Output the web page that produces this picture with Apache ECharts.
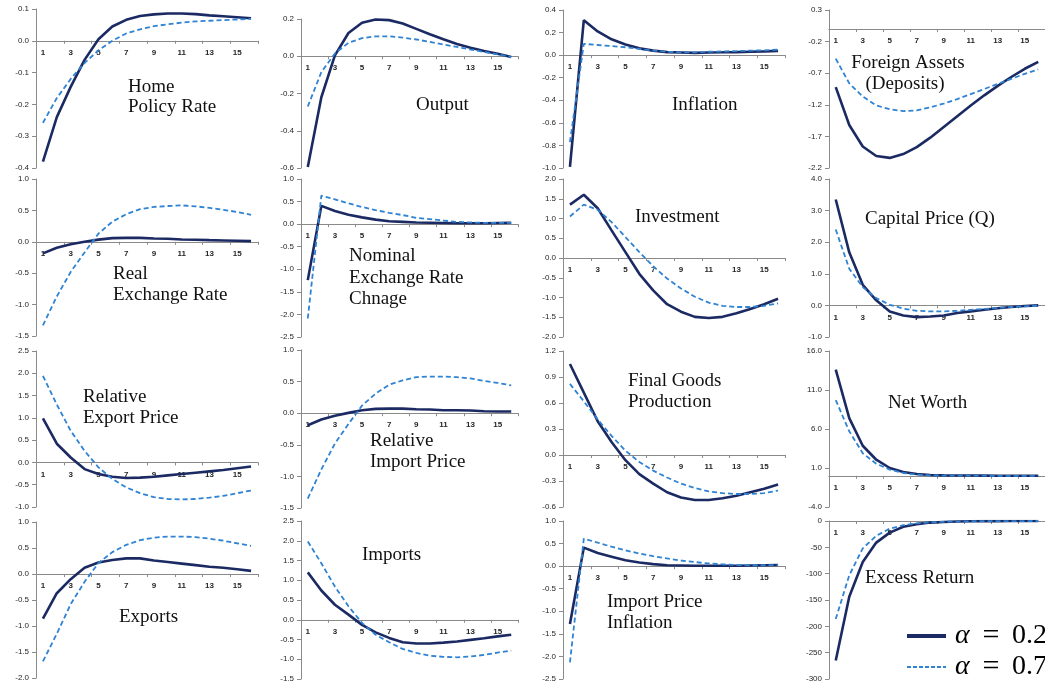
<!DOCTYPE html>
<html>
<head>
<meta charset="utf-8">
<title>Impulse responses</title>
<script src="https://cdn.jsdelivr.net/npm/echarts@6.0.0/dist/echarts.min.js"></script>
<style>
  html, body { margin: 0; padding: 0; background: #ffffff; }
  #chart { width: 1045px; height: 688px; }
</style>
</head>
<body>
<div id="chart"></div>
<script>
// Quarters after the shock
const periods = ['1','2','3','4','5','6','7','8','9','10','11','12','13','14','15','16'];

// Responses: "A2" = alpha 0.2 (solid), "A7" = alpha 0.7 (dashed)
const policyRateA2 = [-0.38, -0.24, -0.145, -0.06, 0.005, 0.045, 0.066, 0.078, 0.083, 0.086, 0.086, 0.084, 0.080, 0.077, 0.074, 0.071];
const policyRateA7 = [-0.258, -0.18, -0.12, -0.07, -0.03, 0.0, 0.023, 0.036, 0.046, 0.052, 0.057, 0.061, 0.063, 0.065, 0.067, 0.069];

const outputA2 = [-0.595, -0.22, 0.005, 0.125, 0.18, 0.197, 0.194, 0.176, 0.147, 0.118, 0.091, 0.066, 0.046, 0.028, 0.013, -0.004];
const outputA7 = [-0.27, -0.085, 0.015, 0.072, 0.097, 0.107, 0.107, 0.100, 0.090, 0.077, 0.063, 0.050, 0.036, 0.023, 0.010, -0.004];

const inflationA2 = [-0.99, 0.31, 0.21, 0.14, 0.095, 0.06, 0.04, 0.027, 0.024, 0.02, 0.024, 0.025, 0.027, 0.03, 0.033, 0.038];
const inflationA7 = [-0.77, 0.10, 0.09, 0.08, 0.07, 0.055, 0.04, 0.03, 0.025, 0.025, 0.03, 0.033, 0.036, 0.04, 0.043, 0.048];

const foreignAssetsA2 = [-0.92, -1.52, -1.86, -2.01, -2.04, -1.98, -1.87, -1.72, -1.55, -1.38, -1.21, -1.05, -0.90, -0.76, -0.63, -0.52];
const foreignAssetsA7 = [-0.47, -0.86, -1.07, -1.21, -1.27, -1.30, -1.29, -1.24, -1.18, -1.11, -1.03, -0.95, -0.87, -0.79, -0.71, -0.64];

const realRateA2 = [-0.185, -0.095, -0.04, 0.0, 0.035, 0.058, 0.063, 0.063, 0.053, 0.048, 0.037, 0.032, 0.026, 0.021, 0.016, 0.011];
const realRateA7 = [-1.33, -0.87, -0.48, -0.17, 0.13, 0.32, 0.44, 0.52, 0.555, 0.57, 0.58, 0.565, 0.54, 0.51, 0.475, 0.43];

const nominalRateA2 = [-1.24, 0.405, 0.29, 0.21, 0.15, 0.10, 0.065, 0.05, 0.035, 0.03, 0.025, 0.02, 0.02, 0.02, 0.025, 0.03];
const nominalRateA7 = [-2.09, 0.63, 0.55, 0.46, 0.38, 0.31, 0.25, 0.20, 0.14, 0.11, 0.08, 0.05, 0.037, 0.03, 0.03, 0.03];

const investmentA2 = [1.35, 1.60, 1.26, 0.70, 0.15, -0.40, -0.82, -1.17, -1.36, -1.49, -1.52, -1.49, -1.40, -1.29, -1.17, -1.03];
const investmentA7 = [1.05, 1.35, 1.22, 0.91, 0.53, 0.15, -0.21, -0.52, -0.77, -0.98, -1.13, -1.21, -1.24, -1.24, -1.21, -1.15];

const capitalPriceA2 = [3.35, 1.68, 0.65, 0.16, -0.19, -0.32, -0.37, -0.35, -0.32, -0.24, -0.19, -0.14, -0.09, -0.05, -0.02, 0.0];
const capitalPriceA7 = [2.4, 1.16, 0.58, 0.23, 0.02, -0.10, -0.17, -0.19, -0.19, -0.17, -0.14, -0.11, -0.08, -0.05, -0.03, -0.01];

const exportPriceA2 = [0.99, 0.42, 0.11, -0.15, -0.26, -0.32, -0.35, -0.34, -0.32, -0.29, -0.26, -0.23, -0.20, -0.17, -0.13, -0.09];
const exportPriceA7 = [1.94, 1.30, 0.71, 0.26, -0.11, -0.37, -0.56, -0.69, -0.78, -0.82, -0.83, -0.82, -0.79, -0.75, -0.69, -0.63];

const importPriceA2 = [-0.19, -0.10, -0.04, 0.005, 0.047, 0.068, 0.073, 0.073, 0.063, 0.058, 0.047, 0.047, 0.042, 0.031, 0.026, 0.026];
const importPriceA7 = [-1.35, -0.89, -0.48, -0.17, 0.12, 0.31, 0.45, 0.52, 0.57, 0.58, 0.58, 0.57, 0.55, 0.51, 0.48, 0.44];

const finalGoodsA2 = [1.05, 0.72, 0.39, 0.15, -0.06, -0.22, -0.33, -0.43, -0.49, -0.52, -0.52, -0.50, -0.47, -0.43, -0.39, -0.34];
const finalGoodsA7 = [0.82, 0.62, 0.41, 0.22, 0.05, -0.08, -0.18, -0.26, -0.33, -0.38, -0.42, -0.44, -0.45, -0.45, -0.44, -0.41];

const netWorthA2 = [13.6, 7.4, 3.85, 2.06, 1.0, 0.49, 0.23, 0.1, 0.06, 0.04, 0.03, 0.02, 0.01, 0.01, 0.0, 0.0];
const netWorthA7 = [9.7, 5.7, 2.9, 1.55, 0.79, 0.36, 0.15, 0.06, 0.03, 0.02, 0.01, 0.01, 0.0, 0.0, 0.0, 0.0];

const exportsA2 = [-0.86, -0.37, -0.10, 0.12, 0.22, 0.27, 0.30, 0.30, 0.26, 0.23, 0.20, 0.17, 0.14, 0.12, 0.09, 0.06];
const exportsA7 = [-1.68, -1.15, -0.58, -0.15, 0.21, 0.42, 0.56, 0.65, 0.70, 0.72, 0.72, 0.71, 0.68, 0.64, 0.59, 0.54];

const importsA2 = [1.20, 0.74, 0.38, 0.13, -0.13, -0.32, -0.46, -0.57, -0.60, -0.60, -0.58, -0.55, -0.51, -0.47, -0.42, -0.38];
const importsA7 = [1.98, 1.43, 0.84, 0.34, -0.08, -0.38, -0.57, -0.74, -0.84, -0.91, -0.94, -0.95, -0.93, -0.89, -0.83, -0.78];

const importInflA2 = [-1.28, 0.41, 0.29, 0.21, 0.13, 0.08, 0.045, 0.02, 0.015, 0.01, 0.01, 0.01, 0.01, 0.015, 0.02, 0.025];
const importInflA7 = [-2.13, 0.61, 0.52, 0.43, 0.35, 0.28, 0.22, 0.17, 0.125, 0.09, 0.06, 0.04, 0.025, 0.02, 0.02, 0.025];

const excessReturnA2 = [-265, -144, -78, -41, -22, -11, -6, -3, -2, -1, -0.5, -0.3, -0.2, -0.1, -0.1, 0];
const excessReturnA7 = [-186, -103, -52, -28, -14.5, -8, -4.5, -2.5, -1.5, -1, -0.5, -0.3, -0.2, -0.1, -0.1, 0];

// Value-axis tick labels for each panel
const policyRateTicks = [-0.4, -0.3, -0.2, -0.1, 0.0, 0.1];
const outputTicks = [-0.6, -0.4, -0.2, 0.0, 0.2];
const inflationTicks = [-1.0, -0.8, -0.6, -0.4, -0.2, 0.0, 0.2, 0.4];
const foreignAssetsTicks = [-2.2, -1.7, -1.2, -0.7, -0.2, 0.3];
const realRateTicks = [-1.5, -1.0, -0.5, 0.0, 0.5, 1.0];
const nominalRateTicks = [-2.5, -2.0, -1.5, -1.0, -0.5, 0.0, 0.5, 1.0];
const investmentTicks = [-2.0, -1.5, -1.0, -0.5, 0.0, 0.5, 1.0, 1.5, 2.0];
const capitalPriceTicks = [-1.0, 0.0, 1.0, 2.0, 3.0, 4.0];
const exportPriceTicks = [-1.0, -0.5, 0.0, 0.5, 1.0, 1.5, 2.0, 2.5];
const importPriceTicks = [-1.5, -1.0, -0.5, 0.0, 0.5, 1.0];
const finalGoodsTicks = [-0.6, -0.3, 0.0, 0.3, 0.6, 0.9, 1.2];
const netWorthTicks = [-4.0, 1.0, 6.0, 11.0, 16.0];
const exportsTicks = [-2.0, -1.5, -1.0, -0.5, 0.0, 0.5, 1.0];
const importsTicks = [-1.5, -1.0, -0.5, 0.0, 0.5, 1.0, 1.5, 2.0, 2.5];
const importInflTicks = [-2.5, -2.0, -1.5, -1.0, -0.5, 0.0, 0.5, 1.0];
const excessReturnTicks = [-300, -250, -200, -150, -100, -50, 0];

const panels = [
  { a2: policyRateA2, a7: policyRateA7, ticks: policyRateTicks, digits: 1 },
  { a2: outputA2, a7: outputA7, ticks: outputTicks, digits: 1 },
  { a2: inflationA2, a7: inflationA7, ticks: inflationTicks, digits: 1 },
  { a2: foreignAssetsA2, a7: foreignAssetsA7, ticks: foreignAssetsTicks, digits: 1 },
  { a2: realRateA2, a7: realRateA7, ticks: realRateTicks, digits: 1 },
  { a2: nominalRateA2, a7: nominalRateA7, ticks: nominalRateTicks, digits: 1 },
  { a2: investmentA2, a7: investmentA7, ticks: investmentTicks, digits: 1 },
  { a2: capitalPriceA2, a7: capitalPriceA7, ticks: capitalPriceTicks, digits: 1 },
  { a2: exportPriceA2, a7: exportPriceA7, ticks: exportPriceTicks, digits: 1 },
  { a2: importPriceA2, a7: importPriceA7, ticks: importPriceTicks, digits: 1 },
  { a2: finalGoodsA2, a7: finalGoodsA7, ticks: finalGoodsTicks, digits: 1 },
  { a2: netWorthA2, a7: netWorthA7, ticks: netWorthTicks, digits: 1 },
  { a2: exportsA2, a7: exportsA7, ticks: exportsTicks, digits: 1 },
  { a2: importsA2, a7: importsA7, ticks: importsTicks, digits: 1 },
  { a2: importInflA2, a7: importInflA7, ticks: importInflTicks, digits: 1 },
  { a2: excessReturnA2, a7: excessReturnA7, ticks: excessReturnTicks, digits: 0 }
];

// Panel layout (4 x 4 grid of small charts)
const colLeft = [36, 301, 563, 829];
const colWidth = [222, 217, 222, 218];
const panelTop = [9, 19, 10, 10, 179, 179, 179, 179, 351, 350, 351, 351, 522, 521, 521, 521];
const panelBottom = [168, 168, 168, 168, 336, 337, 337, 337, 507, 508, 507, 507, 678, 679, 679, 679];

const SOLID = '#1b2a62';
const DASHED = '#2f83d2';
const AXIS = '#8a8a8a';
const LABEL_FONT = '"Liberation Sans", Arial, sans-serif';
const TITLE_FONT = '19px "Liberation Serif", "Times New Roman", serif';

const grids = [], xAxes = [], yAxes = [], series = [];
panels.forEach((p, i) => {
  const col = i % 4;
  const height = panelBottom[i] - panelTop[i];
  const yMin = p.ticks[0];
  const yMax = p.ticks[p.ticks.length - 1];
  // the category axis (line, ticks and labels) sits on the zero level of the value axis
  const zeroLift = height * (0 - yMin) / (yMax - yMin);
  grids.push({
    left: colLeft[col], width: colWidth[col],
    top: panelTop[i], height: height,
    containLabel: false
  });
  xAxes.push({
    type: 'category', gridIndex: i, data: periods, boundaryGap: true,
    position: 'bottom', offset: -zeroLift,
    axisLine: { show: true, onZero: false, lineStyle: { color: AXIS, width: 1 } },
    axisTick: { show: true, interval: 1, length: 3, lineStyle: { color: AXIS } },
    axisLabel: { interval: 1, margin: 8, fontSize: 8, fontFamily: LABEL_FONT, color: '#262626', fontWeight: 'bold' },
    splitLine: { show: false }
  });
  yAxes.push({
    type: 'value', gridIndex: i, min: yMin, max: yMax,
    axisLine: { show: true, onZero: false, lineStyle: { color: AXIS, width: 1 } },
    axisTick: { show: true, length: 4, customValues: p.ticks, lineStyle: { color: AXIS } },
    axisLabel: {
      customValues: p.ticks, margin: 7, fontSize: 8, fontFamily: LABEL_FONT, color: '#262626',
      formatter: v => Number(v).toFixed(p.digits)
    },
    splitLine: { show: false }
  });
  series.push({
    type: 'line', name: 'α = 0.2', xAxisIndex: i, yAxisIndex: i, data: p.a2,
    showSymbol: false, smooth: false, clip: true,
    lineStyle: { color: SOLID, width: 2.6 }
  });
  series.push({
    type: 'line', name: 'α = 0.7', xAxisIndex: i, yAxisIndex: i, data: p.a7,
    showSymbol: false, smooth: false, clip: true,
    lineStyle: { color: DASHED, width: 1.8, type: [5, 3] }
  });
});

// Panel captions, one element per line
function caption(text, x, y, align) {
  return {
    type: 'text', x: x, y: y, z: 10,
    style: { text: text, font: TITLE_FONT, fill: '#111', align: align || 'left', verticalAlign: 'middle' }
  };
}
const captions = [
  caption('Home', 128, 87), caption('Policy Rate', 128, 107),
  caption('Output', 416, 105),
  caption('Inflation', 672, 105),
  caption('Foreign Assets', 908, 63, 'center'), caption('(Deposits)', 905, 84, 'center'),
  caption('Real', 113, 274), caption('Exchange Rate', 113, 295),
  caption('Nominal', 349, 256), caption('Exchange Rate', 349, 278), caption('Chnage', 349, 299),
  caption('Investment', 635, 217),
  caption('Capital Price (Q)', 865, 219),
  caption('Relative', 83, 397), caption('Export Price', 83, 418),
  caption('Relative', 370, 441), caption('Import Price', 370, 462),
  caption('Final Goods', 628, 381), caption('Production', 628, 402),
  caption('Net Worth', 888, 403),
  caption('Exports', 119, 617),
  caption('Imports', 362, 555),
  caption('Import Price', 607, 602), caption('Inflation', 607, 623),
  caption('Excess Return', 865, 578)
];

// Legend in the bottom-right corner
const LEG_FONT = '"Liberation Serif", "Times New Roman", serif';
function legendEntry(y, color, width, dash, value) {
  return [
    { type: 'line', z: 10, shape: { x1: 907, y1: y, x2: 946, y2: y },
      style: { stroke: color, lineWidth: width, lineDash: dash } },
    { type: 'text', x: 955, y: y, z: 10,
      style: { text: 'α', font: 'italic 28px ' + LEG_FONT, fill: '#000', align: 'left', verticalAlign: 'middle' } },
    { type: 'text', x: 991, y: y, z: 10,
      style: { text: '=', font: '30px ' + LEG_FONT, fill: '#000', align: 'center', verticalAlign: 'middle' } },
    { type: 'text', x: 1012, y: y, z: 10,
      style: { text: value, font: '28px ' + LEG_FONT, fill: '#000', align: 'left', verticalAlign: 'middle' } }
  ];
}
const legendMarks = [].concat(
  legendEntry(636, SOLID, 4, null, '0.2'),
  legendEntry(667, DASHED, 2, [4, 2], '0.7')
);

const chart = echarts.init(document.getElementById('chart'), null, { renderer: 'canvas' });
chart.setOption({
  animation: false,
  backgroundColor: '#ffffff',
  grid: grids,
  xAxis: xAxes,
  yAxis: yAxes,
  series: series,
  graphic: captions.concat(legendMarks)
});
</script>
</body>
</html>
